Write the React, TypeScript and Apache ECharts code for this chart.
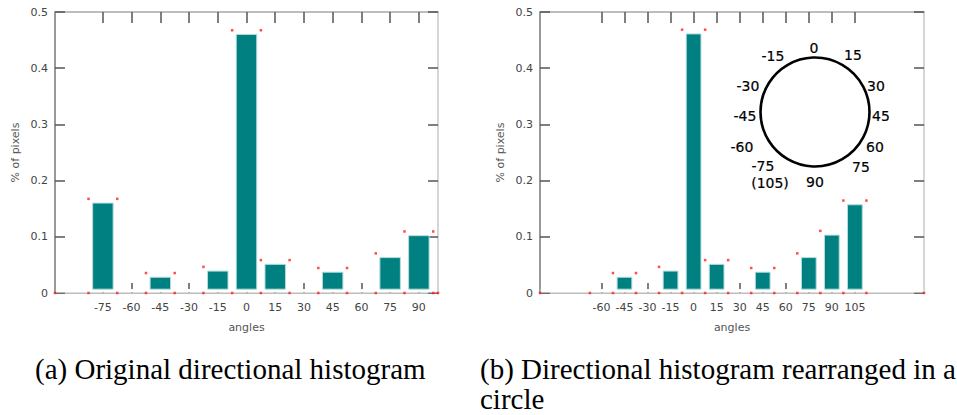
import React, { useEffect, useRef } from "react";
import * as echarts from "echarts";

// ---- data ----
const leftAngles = [-75, -60, -45, -30, -15, 0, 15, 30, 45, 60, 75, 90];
const leftValues = [0.16, 0, 0.028, 0, 0.039, 0.46, 0.051, 0, 0.037, 0, 0.063, 0.102];
const rightAngles = [-60, -45, -30, -15, 0, 15, 30, 45, 60, 75, 90, 105];
const rightValues = [0, 0.028, 0, 0.039, 0.461, 0.051, 0, 0.037, 0, 0.063, 0.103, 0.157];
const circleLabels = ["0", "15", "-15", "30", "-30", "45", "-45", "60", "-60", "75", "-75", "(105)", "90"];
const captionA = "(a) Original directional histogram";
const captionB = "(b) Directional histogram rearranged in a\ncircle";

const BIN = 15;
const DOT_OFF = 0.0075;
const BAR_BASE = 0.0068;

function topDots(angles: number[], values: number[]) {
  const pts: number[][] = [];
  for (let i = 0; i < angles.length; i++) {
    const v = values[i];
    if (v <= 0) continue;
    pts.push([angles[i] - BIN / 2, v + DOT_OFF]);
    const next = i + 1 < values.length ? values[i + 1] : 0;
    if (!(next > v)) pts.push([angles[i] + BIN / 2, v + DOT_OFF]);
  }
  return pts;
}
function bottomDots(angles: number[], min: number, max: number) {
  const pts: number[][] = [[min, 0], [max, 0]];
  for (let i = 0; i < angles.length; i++) pts.push([angles[i] - BIN / 2, 0]);
  pts.push([angles[angles.length - 1] + BIN / 2, 0]);
  return pts;
}

const AXIS_LINE = "#a8a8a8";
const TICK = "#555";
const LABEL = "#444";
const FONT = "DejaVu Sans";

function xAxes(gridIndex: number, min: number, max: number, ticks: number[]) {
  return [
    {
      type: "value", gridIndex, position: "bottom", min, max,
      axisLine: { show: true, onZero: false, lineStyle: { color: AXIS_LINE, width: 1.5 } },
      axisTick: { show: true, inside: true, length: 10, customValues: ticks, lineStyle: { color: TICK, width: 1.5 } },
      axisLabel: { show: true, customValues: ticks, color: LABEL, fontSize: 11, fontFamily: FONT, margin: 9 },
      splitLine: { show: false },
      name: "angles", nameLocation: "middle", nameGap: 29,
      nameTextStyle: { color: "#555", fontSize: 11, fontFamily: FONT },
    },
    {
      type: "value", gridIndex, position: "top", min, max,
      axisLine: { show: true, onZero: false, lineStyle: { color: AXIS_LINE, width: 1.5 } },
      axisTick: { show: true, inside: true, length: 11, customValues: ticks, lineStyle: { color: TICK, width: 1.5 } },
      axisLabel: { show: false },
      splitLine: { show: false },
    },
  ];
}
function yAxes(gridIndex: number) {
  return [
    {
      type: "value", gridIndex, position: "left", min: 0, max: 0.5, interval: 0.1,
      axisLine: { show: true, onZero: false, lineStyle: { color: "#777", width: 1.5 } },
      axisTick: { show: true, inside: true, length: 10, lineStyle: { color: TICK, width: 1.5 } },
      axisLabel: { color: LABEL, fontSize: 11, fontFamily: FONT, margin: 7 },
      splitLine: { show: false },
      name: "% of pixels", nameLocation: "middle", nameRotate: 90, nameGap: 34,
      nameTextStyle: { color: "#555", fontSize: 11, fontFamily: FONT },
    },
    {
      type: "value", gridIndex, position: "right", min: 0, max: 0.5, interval: 0.1,
      axisLine: { show: true, onZero: false, lineStyle: { color: "#c8c8c8", width: 1.5 } },
      axisTick: { show: true, inside: true, length: 10, lineStyle: { color: TICK, width: 1.5 } },
      axisLabel: { show: false },
      splitLine: { show: false },
    },
  ];
}

function barSeries(xi: number, yi: number, angles: number[], values: number[], halfW: number) {
  return {
    type: "custom", xAxisIndex: xi, yAxisIndex: yi, z: 3,
    data: angles.map((a, i) => [a, values[i]]).filter((d) => d[1] > 0),
    renderItem: (params: any, api: any) => {
      const x = api.value(0);
      const v = api.value(1);
      const p1 = api.coord([x - halfW, v]);
      const p2 = api.coord([x + halfW, BAR_BASE]);
      return {
        type: "rect",
        shape: { x: p1[0], y: p1[1], width: p2[0] - p1[0], height: p2[1] - p1[1] },
        style: { fill: "#008080", stroke: "#b5dcdc", lineWidth: 1 },
      };
    },
  };
}
function gapSeries(xi: number, yi: number, min: number, max: number) {
  return {
    type: "line", xAxisIndex: xi, yAxisIndex: yi, z: 2, silent: true,
    data: [[min + 0.5, 0.0038], [max - 0.5, 0.0038]],
    symbol: "none", lineStyle: { color: "#fff", width: 3.5 },
  };
}
function dotSeries(xi: number, yi: number, pts: number[][]) {
  return {
    type: "scatter", xAxisIndex: xi, yAxisIndex: yi, z: 5, silent: true,
    data: pts, symbol: "rect", symbolSize: 2.5, itemStyle: { color: "#ff2020" },
  };
}

export default function App() {
  const ref = useRef<HTMLDivElement>(null);
  useEffect(() => {
    if (!ref.current) return;
    const chart = echarts.init(ref.current, null, { renderer: "svg" });
    const cx = 815, cy = 112;
    const labelPos: number[][] = [
      [814, 48], [853, 55], [773, 56], [876, 86], [748, 86], [881, 116], [745, 116],
      [875, 147], [742, 147], [861, 167], [763, 166], [770, 183], [815, 182],
    ];
    const capFont = '29px "Liberation Serif"';
    const option: any = {
      animation: false,
      backgroundColor: "#fff",
      grid: [
        { left: 55, top: 12, width: 383, height: 281 },
        { left: 540, top: 12, width: 384, height: 281 },
      ],
      xAxis: [...xAxes(0, -100, 100, leftAngles), ...xAxes(1, -100, 150, rightAngles)],
      yAxis: [...yAxes(0), ...yAxes(1)],
      series: [
        gapSeries(0, 0, -100, 100),
        barSeries(0, 0, leftAngles, leftValues, 5.35),
        dotSeries(0, 0, [...topDots(leftAngles, leftValues), ...bottomDots(leftAngles, -100, 100)]),
        gapSeries(2, 2, -100, 150),
        barSeries(2, 2, rightAngles, rightValues, 4.8),
        dotSeries(2, 2, [...topDots(rightAngles, rightValues), ...bottomDots(rightAngles, -100, 150)]),
      ],
      graphic: [
        { type: "circle", shape: { cx, cy, r: 54.5 }, style: { fill: "none", stroke: "#000", lineWidth: 2.6 }, z: 10 },
        ...circleLabels.map((t, i) => ({
          type: "text", x: labelPos[i][0], y: labelPos[i][1], z: 10,
          style: { text: t, fill: "#000", font: `14px "${FONT}"`, align: "center", verticalAlign: "middle", stroke: "#000", lineWidth: 0.2 },
        })),
        { type: "text", x: 35, y: 354, style: { text: captionA, fill: "#000", font: capFont, lineHeight: 30, align: "left", verticalAlign: "top" } },
        { type: "text", x: 480, y: 354, style: { text: captionB, fill: "#000", font: capFont, lineHeight: 30, align: "left", verticalAlign: "top" } },
      ],
    };
    chart.setOption(option);
    return () => chart.dispose();
  }, []);
  return <div ref={ref} style={{ position: "fixed", left: 0, top: 0, width: 957, height: 415, background: "#fff" }} />;
}
